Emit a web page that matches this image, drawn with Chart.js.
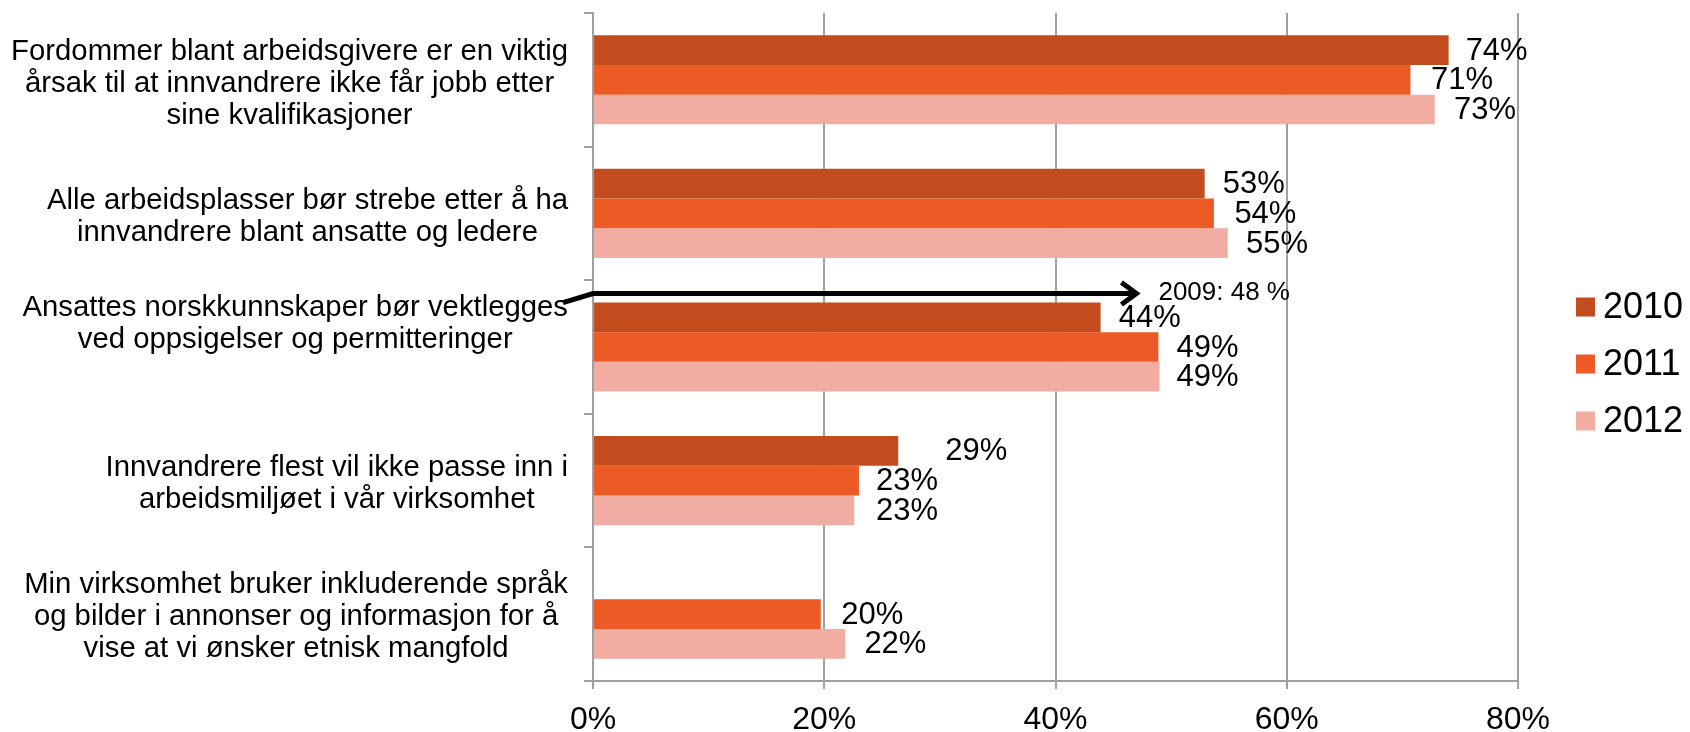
<!DOCTYPE html>
<html>
<head>
<meta charset="utf-8">
<script src="https://cdn.jsdelivr.net/npm/chart.js@4.4.0/dist/chart.umd.min.js"></script>
<style>
  html, body { margin: 0; padding: 0; background: #fff; }
  #wrap { width: 1690px; height: 732px; }
</style>
</head>
<body>
<div id="wrap"><canvas id="bars"></canvas></div>
<script>
// survey statements (one array of lines per category)
var categories = [
  ['Fordommer blant arbeidsgivere er en viktig', 'årsak til at innvandrere ikke får jobb etter', 'sine kvalifikasjoner'],
  ['Alle arbeidsplasser bør strebe etter å ha', 'innvandrere blant ansatte og ledere'],
  ['Ansattes norskkunnskaper bør vektlegges', 'ved oppsigelser og permitteringer'],
  ['Innvandrere flest vil ikke passe inn i', 'arbeidsmiljøet i vår virksomhet'],
  ['Min virksomhet bruker inkluderende språk', 'og bilder i annonser og informasjon for å', 'vise at vi ønsker etnisk mangfold']
];
var years = ['2010', '2011', '2012'];

// bar lengths as drawn in the picture
var values2010 = [74, 52.9, 43.9, 26.4, null];
var values2011 = [70.7, 53.7, 48.9, 23, 19.7];
var values2012 = [72.8, 54.9, 49, 22.6, 21.8];

// percentages printed next to the bars
var shown2010 = [74, 53, 44, 29, null];
var shown2011 = [71, 54, 49, 23, 20];
var shown2012 = [73, 55, 49, 23, 22];

var xTicks = [0, 20, 40, 60, 80];
var note2009 = { text: '2009: 48 %', value: 47, at: 1.6 };

var colors = ['#C24C1E', '#EC5A25', '#F2ADA3'];
var font = 'Liberation Sans, Arial, sans-serif';
var gridGray = '#a0a0a0';

var valueLabels = {
  id: 'valueLabels',
  afterDatasetsDraw: function (chart) {
    var ctx = chart.ctx;
    var xs = chart.scales.x;
    var shown = [shown2010, shown2011, shown2012];
    ctx.save();
    ctx.font = '31px ' + font;
    ctx.fillStyle = '#000';
    ctx.textAlign = 'left';
    ctx.textBaseline = 'middle';
    chart.data.datasets.forEach(function (ds, i) {
      var meta = chart.getDatasetMeta(i);
      meta.data.forEach(function (bar, j) {
        var v = shown[i][j];
        if (v == null) return;
        ctx.fillText(v + '%', xs.getPixelForValue(v) + 17, bar.y + 1);
      });
    });
    ctx.restore();
  }
};

var arrowNote = {
  id: 'arrowNote',
  afterDatasetsDraw: function (chart) {
    var ctx = chart.ctx;
    var y = chart.scales.y.getPixelForValue(note2009.at);
    var x0 = chart.scales.x.getPixelForValue(0);
    var x1 = chart.scales.x.getPixelForValue(note2009.value);
    ctx.save();
    ctx.strokeStyle = '#000';
    ctx.lineWidth = 5;
    ctx.lineJoin = 'miter';
    ctx.beginPath();
    ctx.moveTo(x0 - 30, y + 9);
    ctx.lineTo(x0, y);
    ctx.lineTo(x1, y);
    ctx.stroke();
    ctx.beginPath();
    ctx.moveTo(x1 - 15, y - 11);
    ctx.lineTo(x1, y);
    ctx.lineTo(x1 - 15, y + 11);
    ctx.stroke();
    ctx.font = '26px ' + font;
    ctx.fillStyle = '#000';
    ctx.textBaseline = 'middle';
    ctx.fillText(note2009.text, x1 + 22, y - 1);
    ctx.restore();
  }
};

var categoryLabels = {
  id: 'categoryLabels',
  afterDraw: function (chart, args, opts) {
    var ctx = chart.ctx;
    var ys = chart.scales.y;
    var right = chart.chartArea.left - 25;
    ctx.save();
    ctx.font = '29.3px ' + font;
    ctx.fillStyle = '#000';
    ctx.textAlign = 'center';
    ctx.textBaseline = 'middle';
    categories.forEach(function (lines, i) {
      var w = Math.max.apply(null, lines.map(function (l) { return ctx.measureText(l).width; }));
      var cx = right - w / 2;
      var cy = ys.getPixelForValue(i) + 3 + (opts.shift[i] || 0);
      var top = cy - (lines.length - 1) * 32 / 2;
      lines.forEach(function (l, k) { ctx.fillText(l, cx, top + k * 32); });
    });
    ctx.restore();
  }
};

var sideLegend = {
  id: 'sideLegend',
  afterDraw: function (chart, args, opts) {
    var ctx = chart.ctx;
    var x = chart.chartArea.right + 58;
    ctx.save();
    ctx.font = '36px ' + font;
    ctx.textBaseline = 'middle';
    chart.data.datasets.forEach(function (ds, i) {
      var y = opts.top + i * 57;
      ctx.fillStyle = ds.backgroundColor;
      ctx.fillRect(x, y - 9.5, 19, 19);
      ctx.fillStyle = '#000';
      ctx.fillText(ds.label, x + 27, y + 1);
    });
    ctx.restore();
  }
};

var ctx = document.getElementById('bars').getContext('2d');
var myChart = new Chart(ctx, {
  type: 'bar',
  data: {
    labels: categories,
    datasets: [
      { label: years[0], data: values2010, backgroundColor: colors[0] },
      { label: years[1], data: values2011, backgroundColor: colors[1] },
      { label: years[2], data: values2012, backgroundColor: colors[2] }
    ]
  },
  options: {
    indexAxis: 'y',
    responsive: true,
    maintainAspectRatio: false,
    animation: false,
    devicePixelRatio: 1,
    categoryPercentage: 0.667,
    barPercentage: 1,
    layout: { padding: { top: 13, right: 172, bottom: 0, left: 0 } },
    plugins: {
      legend: { display: false },
      tooltip: { enabled: false },
      categoryLabels: { shift: [1, 1, -26, 0, 0] },
      sideLegend: { top: 307 }
    },
    scales: {
      x: {
        min: xTicks[0],
        max: xTicks[xTicks.length - 1],
        afterBuildTicks: function (s) { s.ticks = xTicks.map(function (v) { return { value: v }; }); },
        afterFit: function (s) { s.height = 51; },
        ticks: {
          color: '#000',
          font: { family: font, size: 32 },
          padding: 12,
          callback: function (v) { return v + '%'; }
        },
        grid: { color: gridGray, lineWidth: 2, tickLength: 8 },
        border: { color: gridGray, width: 2 }
      },
      y: {
        afterFit: function (s) { s.width = 593; },
        ticks: { display: false },
        grid: { drawOnChartArea: false, color: gridGray, lineWidth: 2, tickLength: 9, offset: true },
        border: { color: gridGray, width: 2 }
      }
    }
  },
  plugins: [valueLabels, arrowNote, categoryLabels, sideLegend]
});
</script>
</body>
</html>
